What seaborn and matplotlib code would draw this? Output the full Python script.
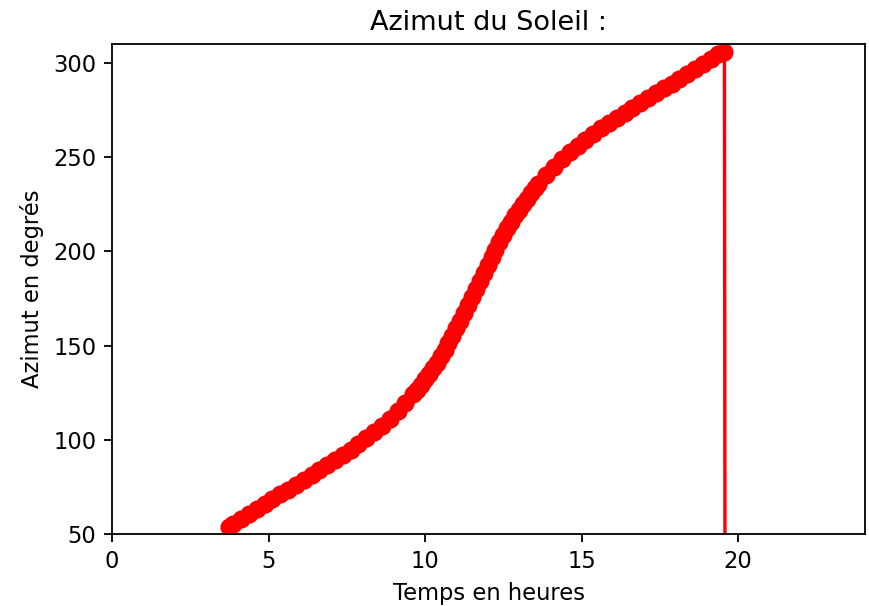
import matplotlib
matplotlib.use("Agg")
import matplotlib.pyplot as plt
import seaborn as sns

# heures (temps universel) et azimut du Soleil en degrés
heures = [
    3.72, 3.87, 4.12, 4.37, 4.62, 4.87, 5.12, 5.37, 5.62, 5.87,
    6.12, 6.37, 6.62, 6.87, 7.12, 7.37, 7.62, 7.87, 8.12, 8.37,
    8.62, 8.87, 9.12, 9.37, 9.62, 9.745, 9.87, 9.995, 10.12, 10.245,
    10.37, 10.495, 10.62, 10.745, 10.87, 10.995, 11.12, 11.245, 11.37, 11.495,
    11.62, 11.745, 11.87, 11.995, 12.12, 12.245, 12.37, 12.495, 12.62, 12.745,
    12.87, 12.995, 13.12, 13.245, 13.37, 13.495, 13.62, 13.87, 14.12, 14.37,
    14.62, 14.87, 15.12, 15.37, 15.62, 15.87, 16.12, 16.37, 16.62, 16.87,
    17.12, 17.37, 17.62, 17.87, 18.12, 18.37, 18.62, 18.87, 19.12, 19.37,
    19.56,
    # après le coucher : azimut mis à 0
    19.58, 24.0,
]
azimut = [
    53.8, 55.4, 58.1, 60.8, 63.4, 65.9, 68.5, 71.0, 73.6, 76.1,
    78.6, 81.2, 83.8, 86.4, 89.1, 91.8, 94.7, 97.6, 100.7, 104.0,
    107.4, 111.1, 115.1, 119.4, 124.1, 126.6, 129.2, 132.0, 134.8, 137.9,
    141.0, 144.4, 147.8, 151.4, 155.2, 159.1, 163.1, 167.2, 171.4, 175.7,
    180.0, 184.3, 188.6, 192.8, 196.9, 200.9, 204.8, 208.6, 212.2, 215.6,
    219.0, 222.1, 225.2, 228.0, 230.8, 233.4, 235.9, 240.6, 244.9, 248.9,
    252.6, 256.0, 259.3, 262.4, 265.3, 268.2, 270.9, 273.6, 276.3, 278.8,
    281.4, 283.9, 286.4, 289.0, 291.5, 294.1, 296.6, 299.2, 301.9, 304.6,
    305.8,
    0.0, 0.0,
]

DPI = 163
fig, ax = plt.subplots(figsize=(869 / DPI, 606 / DPI), dpi=DPI)
fig.subplots_adjust(left=0.129, right=0.9954, bottom=0.1188, top=0.9274)

sns.lineplot(
    x=heures,
    y=azimut,
    ax=ax,
    color="red",
    marker="o",
    markersize=7,
    markeredgecolor="red",
    markeredgewidth=1,
    linewidth=1.5,
    estimator=None,
    sort=False,
)

ax.set_xlim(0, 24.05)
ax.set_ylim(50, 310)
ax.set_title("Azimut du Soleil :")
ax.set_xlabel("Temps en heures")
ax.set_ylabel("Azimut en degrés")

fig.savefig("out.png", dpi=DPI)
plt.close(fig)
